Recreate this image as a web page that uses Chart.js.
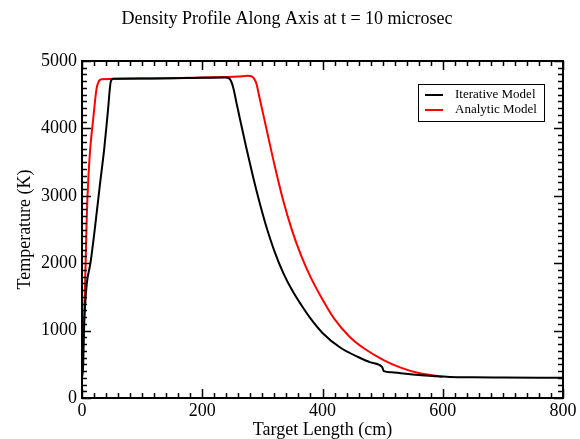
<!DOCTYPE html>
<html>
<head>
<meta charset="utf-8">
<script src="https://cdn.jsdelivr.net/npm/chart.js@4/dist/chart.umd.min.js"></script>
<style>
  html, body { margin: 0; padding: 0; background: #fff; }
  canvas { display: block; }
</style>
</head>
<body>
<canvas id="profileChart" width="580" height="439"></canvas>
<script>
// Temperature along the target axis (cm -> K)
const iterativeX = [0, 2, 3, 5, 8, 14, 22, 30, 37, 43, 48, 52, 100, 200, 238, 244, 248, 252, 257, 262, 273, 284, 295, 305, 320, 335, 350, 365, 380, 400, 430, 460, 480, 499, 502, 515, 530, 550, 570, 590, 612, 650, 700, 800];
const iterativeT = [300, 500, 900, 1350, 1700, 2000, 2560, 3180, 3700, 4250, 4700, 4735, 4740, 4750, 4755, 4745, 4700, 4590, 4375, 4170, 3725, 3300, 2910, 2590, 2180, 1850, 1590, 1375, 1180, 965, 745, 605, 528, 462, 400, 382, 368, 350, 335, 322, 313, 308, 305, 300];

const analyticX = [0, 2, 4, 6, 8, 10.5, 13.5, 19, 24, 28, 32, 100, 200, 260, 276, 282, 286, 290, 295, 305, 320, 335, 350, 365, 380, 400, 420, 445, 470, 500, 530, 560, 580, 600];
const analyticT = [300, 800, 1350, 2000, 2700, 3250, 3680, 4170, 4580, 4700, 4730, 4742, 4757, 4770, 4780, 4775, 4740, 4665, 4465, 4065, 3465, 2918, 2468, 2101, 1797, 1462, 1170, 910, 730, 571, 451, 370, 340, 312];

const xMajorTicks = [0, 200, 400, 600, 800];
const yMajorTicks = [0, 1000, 2000, 3000, 4000, 5000];

const seriesNames = ['Iterative Model', 'Analytic Model'];
const seriesColors = ['#000000', '#ff0000'];

const serif = '"Liberation Serif", "DejaVu Serif", serif';

function toPoints(xs, ys) {
    return xs.map((x, i) => ({ x: x, y: ys[i] }));
}

// Frame with inward major/minor ticks on all four sides
const frameTicks = {
    id: 'frameTicks',
    afterDatasetsDraw(chart) {
        const { ctx, chartArea: a, scales: { x, y } } = chart;
        ctx.save();
        ctx.strokeStyle = '#000';
        ctx.lineWidth = 1.5;
        ctx.beginPath();
        for (let v = 0; v <= 800; v += 20) {
            const px = Math.round(x.getPixelForValue(v)) + 0.5;
            const len = v % 200 === 0 ? 9 : 5;
            ctx.moveTo(px, a.bottom); ctx.lineTo(px, a.bottom - len);
            ctx.moveTo(px, a.top); ctx.lineTo(px, a.top + len);
        }
        for (let v = 0; v <= 5000; v += 100) {
            const py = Math.round(y.getPixelForValue(v)) + 0.5;
            const len = v % 1000 === 0 ? 9 : 5;
            ctx.moveTo(a.left, py); ctx.lineTo(a.left + len, py);
            ctx.moveTo(a.right, py); ctx.lineTo(a.right - len, py);
        }
        ctx.stroke();
        ctx.lineWidth = 2;
        ctx.strokeRect(a.left, a.top, a.right - a.left, a.bottom - a.top);
        ctx.restore();
    }
};

// Boxed legend in the upper right of the plot
const boxLegend = {
    id: 'boxLegend',
    afterDatasetsDraw(chart) {
        const { ctx, chartArea: a } = chart;
        const bx = a.right - 145, by = a.top + 23, bw = 126, bh = 37;
        ctx.save();
        ctx.fillStyle = '#fff';
        ctx.fillRect(bx, by, bw, bh);
        ctx.strokeStyle = '#000';
        ctx.lineWidth = 1;
        ctx.strokeRect(bx + 0.5, by + 0.5, bw, bh);
        ctx.font = '13px ' + serif;
        ctx.textBaseline = 'middle';
        seriesNames.forEach((name, i) => {
            const rowY = by + 11 + i * 15;
            ctx.strokeStyle = seriesColors[i];
            ctx.lineWidth = 2;
            ctx.beginPath();
            ctx.moveTo(bx + 7, rowY);
            ctx.lineTo(bx + 25, rowY);
            ctx.stroke();
            ctx.fillStyle = '#000';
            ctx.fillText(name, bx + 37, rowY);
        });
        ctx.restore();
    }
};

new Chart(document.getElementById('profileChart'), {
    type: 'scatter',
    data: {
        datasets: [
            {
                label: seriesNames[0],
                data: toPoints(iterativeX, iterativeT),
                borderColor: seriesColors[0],
                borderWidth: 2,
                showLine: true,
                pointRadius: 0,
                cubicInterpolationMode: 'monotone'
            },
            {
                label: seriesNames[1],
                data: toPoints(analyticX, analyticT),
                borderColor: seriesColors[1],
                borderWidth: 2,
                showLine: true,
                pointRadius: 0,
                cubicInterpolationMode: 'monotone'
            }
        ]
    },
    options: {
        responsive: false,
        animation: false,
        layout: { padding: { left: 11, right: 17, top: 0, bottom: 0 } },
        plugins: {
            legend: { display: false },
            tooltip: { enabled: false },
            title: {
                display: true,
                text: 'Density Profile Along Axis at t = 10 microsec',
                color: '#000',
                font: { family: serif, size: 18, weight: 'normal', lineHeight: 1.2 },
                padding: { top: 8, bottom: 31.4 }
            }
        },
        scales: {
            x: {
                type: 'linear',
                min: 0,
                max: 800,
                afterBuildTicks: (scale) => { scale.ticks = xMajorTicks.map(v => ({ value: v })); },
                afterFit: (scale) => { scale.height = 41; },
                grid: { display: false, drawTicks: false },
                border: { display: false },
                ticks: { color: '#000', padding: 2, font: { family: serif, size: 18 }, callback: (v) => String(v) },
                title: {
                    display: true,
                    text: 'Target Length (cm)',
                    color: '#000',
                    font: { family: serif, size: 18, lineHeight: 1 },
                    padding: { top: 0, bottom: 0 }
                }
            },
            y: {
                type: 'linear',
                min: 0,
                max: 5000,
                afterBuildTicks: (scale) => { scale.ticks = yMajorTicks.map(v => ({ value: v })); },
                afterFit: (scale) => { scale.width = 71; },
                grid: { display: false, drawTicks: false },
                border: { display: false },
                ticks: { color: '#000', padding: 5, font: { family: serif, size: 18 }, callback: (v) => String(v) },
                title: {
                    display: true,
                    text: 'Temperature (K)',
                    color: '#000',
                    font: { family: serif, size: 18, lineHeight: 1 },
                    padding: { top: 5, bottom: 0 }
                }
            }
        }
    },
    plugins: [frameTicks, boxLegend]
});
</script>
</body>
</html>
